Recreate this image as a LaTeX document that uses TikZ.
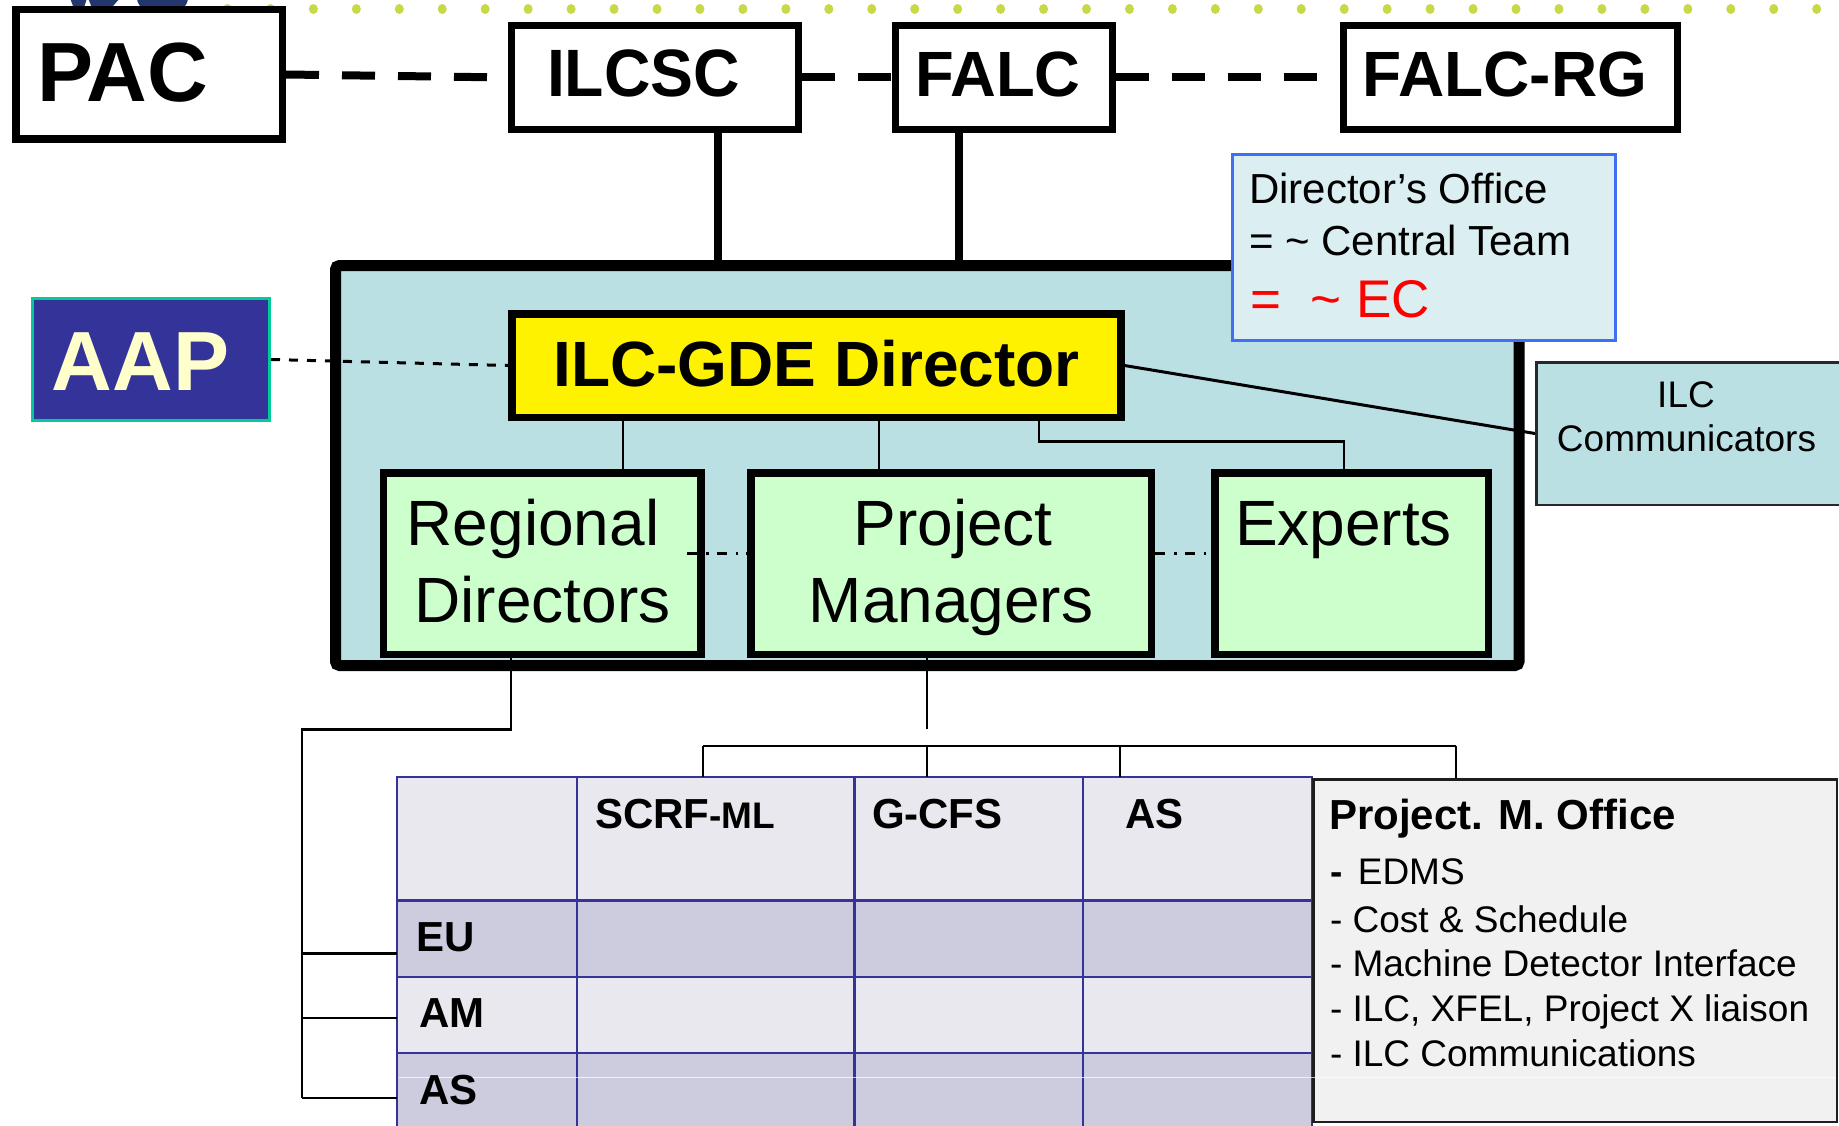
\documentclass[tikz,border=0pt]{standalone}
\usepackage{fontspec}
\setmainfont{Liberation Sans}
\usepackage{graphicx}
\newcommand\myfs[1]{\fontsize{#1}{#1}\selectfont}
\definecolor{bigfill}{RGB}{186,224,227}
\definecolor{officefill}{RGB}{219,238,241}
\definecolor{officeblue}{RGB}{66,110,245}
\definecolor{aapblue}{RGB}{51,51,153}
\definecolor{aapborder}{RGB}{0,204,153}
\definecolor{aaptext}{RGB}{255,255,204}
\definecolor{greenfill}{RGB}{204,255,204}
\definecolor{tblue}{RGB}{51,51,153}
\definecolor{hdrfill}{RGB}{232,232,238}
\definecolor{lavfill}{RGB}{205,204,222}
\definecolor{pmofill}{RGB}{241,241,241}
\definecolor{pmoborder}{RGB}{30,30,30}
\definecolor{dotc}{RGB}{200,216,70}
\definecolor{logonavy}{RGB}{35,55,110}
\begin{document}
\begin{tikzpicture}[x=1pt,y=-1pt,
  box/.style={draw, inner sep=0pt, outer sep=0.5\pgflinewidth},
  txt/.style={inner sep=0pt, outer sep=0pt},
  conn/.style={line width=2.5pt},
  cell/.style={draw=tblue, line width=2.5pt, inner sep=0pt, outer sep=0pt},
  topdash/.style={line width=8pt, dash pattern=on 33pt off 23pt},
]
\useasboundingbox (0,0) rectangle (1839,1126);
\fill[white] (0,0) rectangle (1839,1126);

% decorative dotted rule and logo fragment
\foreach \k in {0,...,37} \fill[dotc] ({227.5+42.95*\k},9) ellipse [x radius=4.5, y radius=5];
\fill[logonavy] (70,-2) -- (87,-2) -- (82,14) -- (76,14) -- cycle;
\fill[logonavy] (88,-2) -- (120,-2) -- (107,13) -- (94,13) -- cycle;
\fill[logonavy] (162.5,-2) ellipse [x radius=25.5, y radius=17];

% big light-blue frame
\node[box, line width=11pt, fill=bigfill, rounded corners=4pt, minimum width=1183.5pt, minimum height=400pt] (big) at (927.25,465.5) {};

% top boxes
\node[box, line width=7.5pt, fill=white, minimum width=266.5pt, minimum height=129.5pt] (pac) at (149,74.5) {};
\node[box, line width=7pt, fill=white, minimum width=287pt, minimum height=104pt] (ilcsc) at (655,77.5) {};
\node[box, line width=7pt, fill=white, minimum width=216.6pt, minimum height=104pt] (falc) at (1003.8,77.5) {};
\node[box, line width=7pt, fill=white, minimum width=334pt, minimum height=104pt] (falcrg) at (1510.5,77.5) {};
\node[txt, anchor=base] (pac-t) at (122.7,101.7) {\myfs{84}\bfseries PAC};
\node[txt, anchor=base] (ilcsc-t) at (643.5,97) {\myfs{67}\bfseries\scalebox{0.96}[1]{ILCSC}};
\node[txt, anchor=base] (falc-t) at (998,97) {\myfs{64}\bfseries\scalebox{0.99}[1]{FALC}};
\node[txt, anchor=base] (falcrg-t) at (1505,97) {\myfs{64}\bfseries FALC-RG};

\draw[topdash] (pac.east) -- (ilcsc.west);
\draw[topdash] (ilcsc.east) -- (falc.west);
\draw[topdash] (falc.east) -- (falcrg.west);

\coordinate (ilv) at ([xshift=63pt]ilcsc.south);
\coordinate (fav) at ([xshift=-44.8pt]falc.south);
\draw[line width=8pt] (ilv) -- (ilv |- big.north);
\draw[line width=8pt] (fav) -- (fav |- big.north);

% Director's office note
\node[box, draw=officeblue, line width=3pt, fill=officefill, minimum width=383.2pt, minimum height=186.6pt] (office) at (1423.7,247.5) {};
\node[txt, anchor=base west] (office-1) at (1249,204) {\myfs{42}Director’s Office};
\node[txt, anchor=base west] (office-2) at (1249,255) {\myfs{42}= \textasciitilde{} Central Team};
\node[txt, anchor=base west, text=red] (office-3) at (1250,317) {\myfs{53}=\ \ \textasciitilde\ EC};

% AAP
\node[box, draw=aapborder, line width=3pt, fill=aapblue, minimum width=237.5pt, minimum height=122pt] (aap) at (150.75,359.5) {};
\node[txt, anchor=base, text=aaptext] (aap-t) at (140.5,390) {\myfs{84}\bfseries AAP};

% director and groups
\node[box, line width=7.5pt, fill=yellow, minimum width=609pt, minimum height=103.5pt] (dir) at (816.25,365.5) {};
\node[box, line width=7.5pt, fill=greenfill, minimum width=317.5pt, minimum height=181.8pt] (rd) at (542,563.65) {};
\node[box, line width=7.5pt, fill=greenfill, minimum width=400.5pt, minimum height=181.8pt] (pm) at (951,563.65) {};
\node[box, line width=7.5pt, fill=greenfill, minimum width=273.5pt, minimum height=181.8pt] (exp) at (1351.5,563.65) {};

\draw[line width=3pt, dash pattern=on 9pt off 9pt] (aap.east) -- (dir.west);

\coordinate (drd) at ([xshift=81pt]rd.north);
\coordinate (dpm) at ([xshift=-72pt]pm.north);
\draw[conn] (drd) -- (drd |- dir.south);
\draw[conn] (dpm) -- (dpm |- dir.south);
\draw[conn] ([xshift=222.7pt]dir.south) -- ++(0,20.7) -| ([xshift=-7.5pt]exp.north);

\node[txt, anchor=base] (dir-t) at (816.5,386) {\myfs{64}\bfseries ILC-GDE Director};
\node[txt, anchor=base] (rd-t1) at (533,545.7) {\myfs{64}Regional};
\node[txt, anchor=base] (rd-t2) at (542.5,622) {\myfs{64}Directors};
\node[txt, anchor=base] (pm-t1) at (953,545.7) {\myfs{64}Project};
\node[txt, anchor=base] (pm-t2) at (951,622) {\myfs{64}Managers};
\node[txt, anchor=base] (exp-t) at (1343.5,545.7) {\myfs{64}Experts};

\draw[line width=3pt, dash pattern=on 10pt off 9pt on 2.5pt off 8pt] ([xshift=-17.5pt,yshift=10.65pt]rd.east) -- ([yshift=10.65pt]pm.west);
\draw[line width=3pt, dash pattern=on 10pt off 9pt on 2.5pt off 8pt] ([yshift=10.65pt]pm.east) -- ([yshift=10.65pt]exp.west);

% ILC communicators
\draw[line width=3pt] (dir.east) -- (1535,433.5);
\node[box, draw={rgb,255:red,40;green,40;blue,40}, line width=2.5pt, fill=bigfill, minimum width=307.5pt, minimum height=142.5pt] (comm) at (1690,433.5) {};
\node[txt, anchor=base] (comm-t1) at (1686,407) {\myfs{37}ILC};
\node[txt, anchor=base] (comm-t2) at (1686.5,451) {\myfs{37}Communicators};

% matrix table
\foreach \r/\ya/\yb/\fc in {0/777/900.7/hdrfill, 1/900.7/977/lavfill, 2/977/1053/hdrfill, 3/1053/1135/lavfill}{
  \foreach \c/\xa/\xb in {0/397/577, 1/577/854.5, 2/854.5/1083, 3/1083/1312}{
    \pgfmathsetmacro\ww{\xb-\xa}
    \pgfmathsetmacro\hh{\yb-\ya}
    \pgfmathsetmacro\cx{(\xa+\xb)/2}
    \pgfmathsetmacro\cy{(\ya+\yb)/2}
    \node[cell, fill=\fc, minimum width=\ww pt, minimum height=\hh pt] (c\r\c) at (\cx,\cy) {};
  }
}

% project management office
\node[box, draw=pmoborder, line width=2.5pt, fill=pmofill, minimum width=523.5pt, minimum height=342.5pt] (pmo) at (1575,950.5) {};

% faint white scan line (under the texts)
\draw[white, opacity=0.7, line width=1.2pt] (399,1077.5) -- (1836,1077.5);

\node[txt, anchor=base west] (h-scrf) at (595,828) {\myfs{42}\bfseries SCRF{\myfs{37}-ML}};
\node[txt, anchor=base west] (h-gcfs) at (872,828) {\myfs{42}\bfseries G-CFS};
\node[txt, anchor=base west] (h-as) at (1125,828) {\myfs{42}\bfseries AS};
\node[txt, anchor=base west] (r-eu) at (416,951) {\myfs{42}\bfseries EU};
\node[txt, anchor=base west] (r-am) at (419,1027) {\myfs{42}\bfseries AM};
\node[txt, anchor=base west] (r-as) at (419,1104) {\myfs{42}\bfseries AS};

\node[txt, anchor=base west] (pmo-h) at (1329,829) {\myfs{42}\bfseries Project. M. Office};
\node[txt, anchor=base west] (pmo-1) at (1330,884) {\myfs{37}\textbf{-}\hspace{15.5pt}EDMS};
\node[txt, anchor=base west] (pmo-2) at (1330,932.7) {\myfs{37}- Cost \& Schedule};
\node[txt, anchor=base west] (pmo-3) at (1330,976.7) {\myfs{37}- Machine Detector Interface};
\node[txt, anchor=base west] (pmo-4) at (1330,1021.7) {\myfs{37}- ILC, XFEL, Project X liaison};
\node[txt, anchor=base west] (pmo-5) at (1330,1066) {\myfs{37}- ILC Communications};

% connectors below the frame
\coordinate (bus1) at (302,729.3);
\coordinate (bus2) at (302,1098);
\coordinate (beu) at (302,953.5);
\coordinate (bam) at (302,1018);
\coordinate (bas) at (302,1098);
\draw[conn] ([xshift=-31pt]rd.south) |- (bus1) -- (bus2);
\draw[conn] (beu) -- (beu -| c10.west);
\draw[conn] (bam) -- (bam -| c20.west);
\draw[conn] (bas) -- (bas -| c30.west);

\coordinate (pmend) at ([xshift=-24pt,yshift=-71pt]pm.south);
\draw[conn] ([xshift=-24pt]pm.south) -- (pmend);

\coordinate (b1) at (703,746);
\coordinate (b2) at (927,746);
\coordinate (b3) at (1120,746);
\coordinate (b4) at (1456,746);
\draw[conn] (b1) -- (b4);
\draw[conn] (b1) -- (b1 |- c01.north);
\draw[conn] (b2) -- (b2 |- c02.north);
\draw[conn] (b3) -- (b3 |- c03.north);
\draw[conn] (b4) -- (b4 |- pmo.north);
\end{tikzpicture}
\end{document}
